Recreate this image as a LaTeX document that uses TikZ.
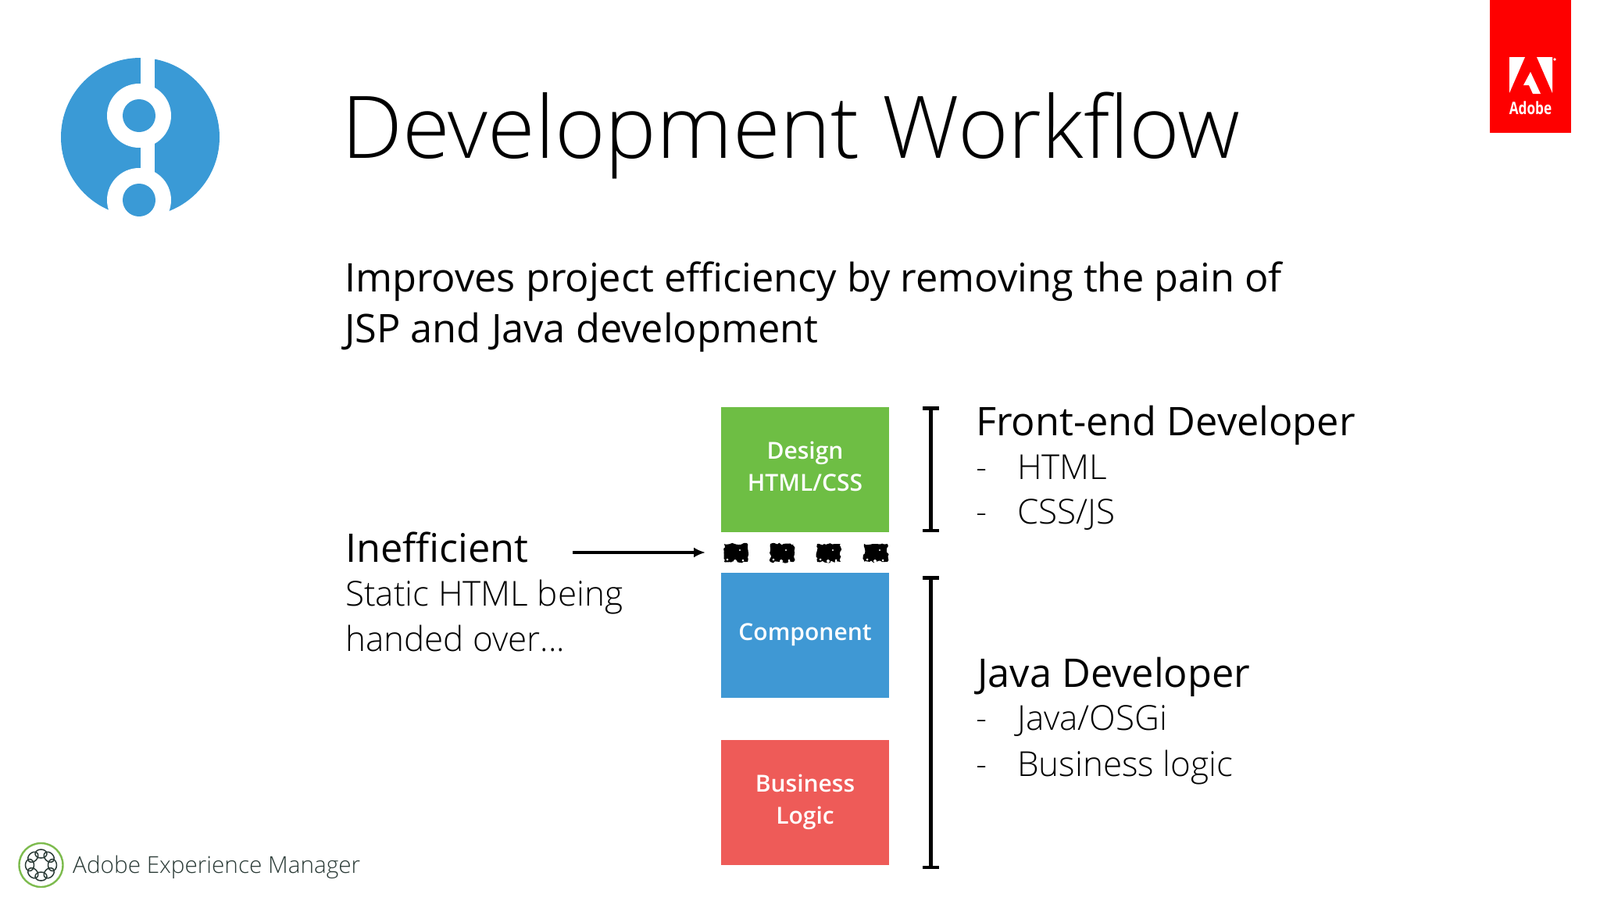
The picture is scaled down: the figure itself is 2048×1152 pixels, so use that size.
\documentclass[tikz,border=0pt]{standalone}
\usepackage{fontspec}
\setmainfont{Open Sans}
\newfontfamily\lightfont{Open Sans Light}
\newfontfamily\semifont{Open Sans Semibold}
\usetikzlibrary{arrows.meta,decorations.pathmorphing}
\definecolor{logoblue}{HTML}{3A9AD6}
\definecolor{boxgreen}{HTML}{6EBE44}
\definecolor{boxblue}{HTML}{3F98D4}
\definecolor{boxred}{HTML}{EE5B58}
\definecolor{adobered}{HTML}{FE0000}
\definecolor{aemgreen}{HTML}{7DBB4E}
\definecolor{aemdark}{HTML}{2A3A36}
\tikzset{
  label/.style={anchor=base west,inner sep=0pt,text=black},
  heading/.style={label,font=\fontsize{50.5}{50.5}\selectfont},
  thin item/.style={label,font=\lightfont\fontsize{44}{44}\selectfont},
  layer/.style={minimum width=215,minimum height=160,inner sep=0pt,text=white,align=center,
    font=\semifont\fontsize{30}{41}\selectfont},
  bracket/.style={line width=4.5,|-|},
  smudge/.style={fill=black,decorate,decoration={random steps,segment length=3,amplitude=1.6}},
}
\begin{document}
\begin{tikzpicture}[x=1pt,y=-1pt]
\useasboundingbox (0,0) rectangle (2048,1152);

% logo top left
\fill[logoblue] (179.5,175.5) circle (101.5);
\fill[white] (178,148) circle (41);
\fill[white] (178,256) circle (41);
\fill[white] (179.5,60) rectangle (197.5,240);
\fill[logoblue] (178,148) circle (21);
\fill[logoblue] (178,256) circle (21);

% adobe corner
\fill[adobered] (1907,0) rectangle (2011,170);
\fill[white] (1932,73) -- (1952,73) -- (1932,119) -- cycle;
\fill[white] (1967,73) -- (1987,73) -- (1987,119) -- cycle;
\fill[white] (1959,92) -- (1972,120) -- (1962,120) -- (1957,109) -- (1950,109) -- cycle;
\fill[white] (1990,76) circle (1.8);
\node[anchor=base,inner sep=0pt,text=white] (adobe) at (1959,146)
  {\bfseries\fontsize{22}{22}\selectfont\addfontfeature{FakeStretch=.78}Adobe};

% title and subtitle
\node[label,font=\lightfont\fontsize{110.5}{110.5}\selectfont] (title) at (437,202) {Development Workflow};
\node[heading] (sub1) at (441,373) {Improves project efficiency by removing the pain of};
\node[heading] (sub2) at (441,438) {JSP and Java development};

% layers
\node[layer,fill=boxgreen] (design) at (1030.5,601) {Design\\HTML/CSS\\[-33pt]};
\node[layer,fill=boxblue] (component) at (1030.5,813) {Component\\[-33pt]};
\node[layer,fill=boxred] (logic) at (1030.5,1027) {Business\\Logic\\[-33pt]};

% broken link between design and component
\foreach \x in {927,986,1046,1106} {
  \fill[smudge] (\x,696) rectangle (\x+30,719);
  \fill[white] (\x+4,716) circle (1.5) (\x+14,718) circle (2) (\x+24,717) circle (1.5) (\x+20,704) circle (1.2);
}
\coordinate (link) at (903,707);

% left text
\node[heading] (ineff) at (442,719) {Inefficient};
\node[thin item] (static) at (442,775) {Static HTML being};
\node[thin item] (handed) at (442,833) {handed over...};
\coordinate (arrowstart) at (733,707);
\draw[line width=3.2,-{Latex[length=15,width=13]}] (arrowstart) -- (link);

% brackets
\coordinate (fronttop) at (1191.5,520);
\coordinate (frontbot) at (1191.5,681);
\coordinate (javatop) at (1191.5,737);
\coordinate (javabot) at (1191.5,1112);
\draw[bracket] (fronttop) -- (frontbot);
\draw[bracket] (javatop) -- (javabot);

% right text
\node[heading] (front) at (1249,557) {Front-end Developer};
\node[thin item] (dash1) at (1249,613) {-};
\node[thin item] (html) at (1302,613) {HTML};
\node[thin item] (dash2) at (1249,670) {-};
\node[thin item] (css) at (1302,670) {CSS/JS};
\node[heading] (java) at (1251,879) {Java Developer};
\node[thin item] (dash3) at (1249,934) {-};
\node[thin item] (osgi) at (1302,934) {Java/OSGi};
\node[thin item] (dash4) at (1249,993) {-};
\node[thin item] (business) at (1302,993) {Business logic};

% aem footer
\draw[aemgreen,line width=2.4] (52.5,1107) circle (28);
\foreach \a in {0,45,...,315} {
  \draw[aemdark,line width=1.5,rotate around={\a:(52.5,1107)}] (52.5,1092.5) ellipse (7.5 and 5.5);
}
\node[label,font=\lightfont\fontsize{29.7}{29.7}\selectfont,text=aemdark] (aem) at (93,1117) {Adobe Experience Manager};
\end{tikzpicture}
\end{document}
